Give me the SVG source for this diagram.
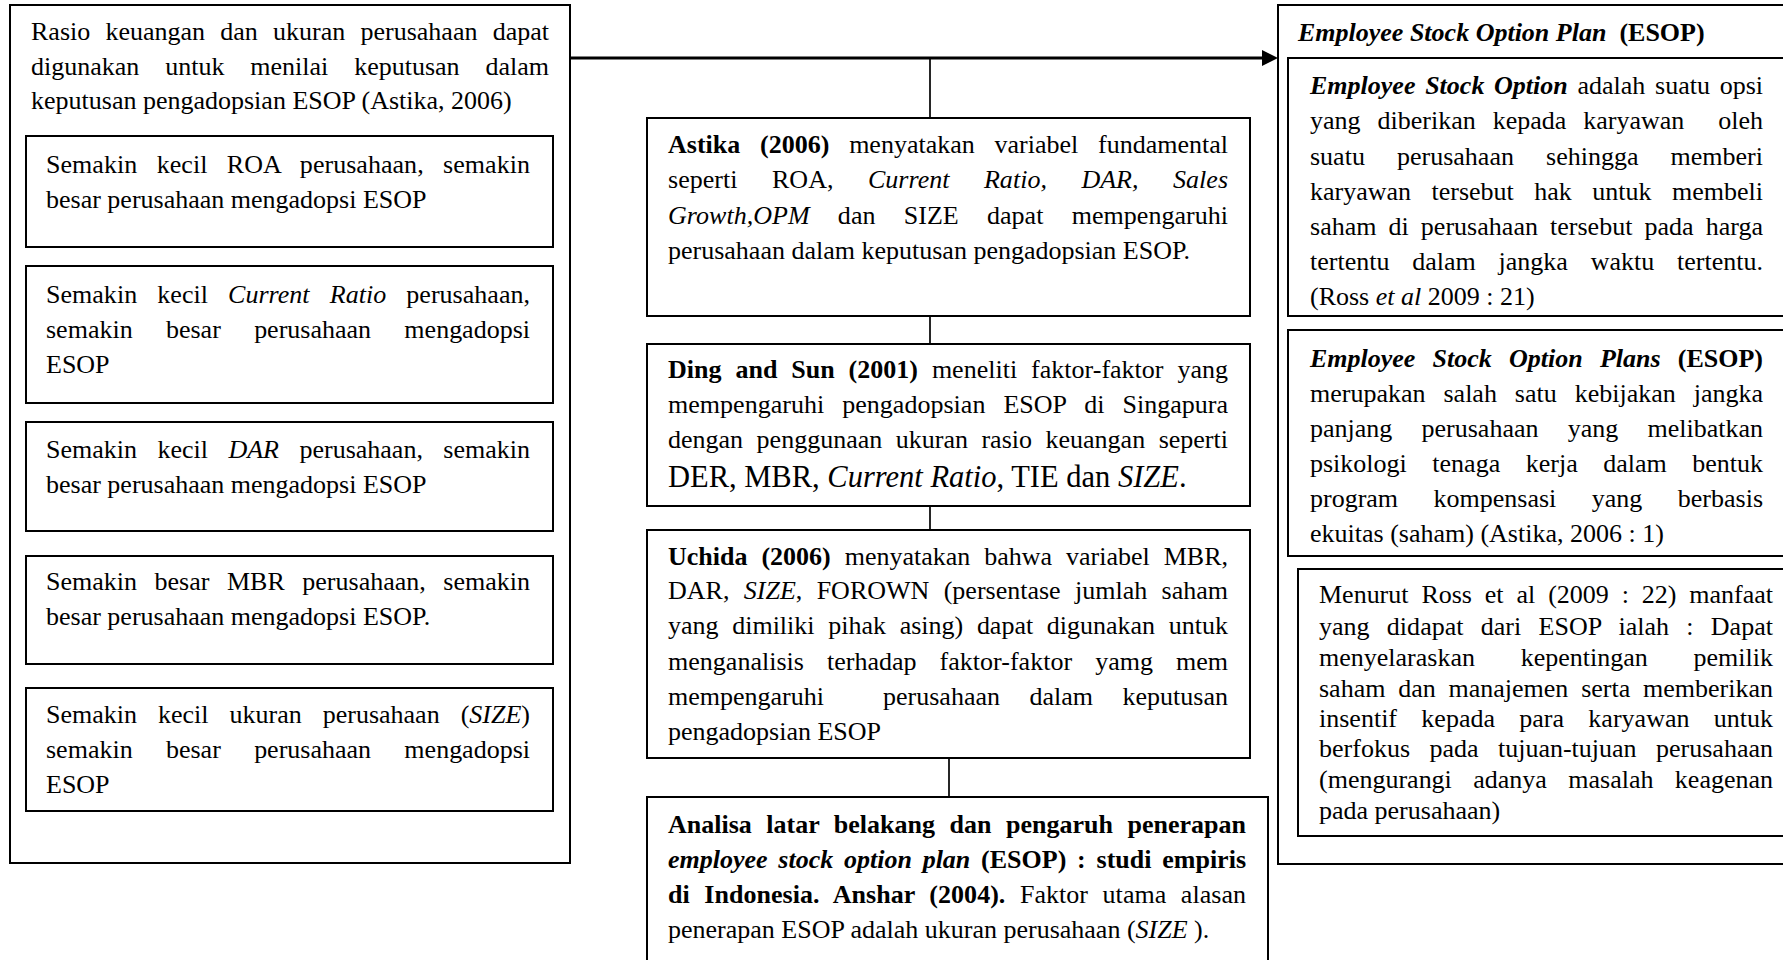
<svg xmlns="http://www.w3.org/2000/svg" width="1783" height="960" viewBox="0 0 1783 960">
<style>
.t{font-family:"Liberation Serif","Times New Roman",serif;font-size:26px;fill:#000}
.b{font-weight:bold}
.i{font-style:italic}
.bi{font-weight:bold;font-style:italic}
.box{fill:none;stroke:#000;stroke-width:2}
.conn{stroke:#000;stroke-width:1.7;fill:none}
.main{stroke:#000;stroke-width:3;fill:none}
</style>
<defs>
<marker id="arr" markerUnits="userSpaceOnUse" markerWidth="16" markerHeight="16" refX="4" refY="8" orient="auto">
<path d="M0,0 L16,8 L0,16 z" fill="#000"/>
</marker>
</defs>
<rect width="1783" height="960" fill="#fff"/>

<g id="connectors">
<line class="main" x1="571" y1="58" x2="1266" y2="58" marker-end="url(#arr)"/>
<line class="conn" x1="930" y1="58" x2="930" y2="118"/>
<line class="conn" x1="930" y1="316" x2="930" y2="344"/>
<line class="conn" x1="930" y1="506" x2="930" y2="530"/>
<line class="conn" x1="949" y1="758" x2="949" y2="797"/>
</g>

<g id="left-main">
<rect class="box" x="10" y="5" width="560" height="858"/>
<text class="t" x="31" y="40" textLength="518" lengthAdjust="spacing" style="word-spacing:8.7px">Rasio keuangan dan ukuran perusahaan dapat</text>
<text class="t" x="31" y="75" textLength="518" lengthAdjust="spacing" style="word-spacing:19.4px">digunakan untuk menilai keputusan dalam</text>
<text class="t" x="31" y="109">keputusan pengadopsian ESOP (Astika, 2006)</text>
</g>

<g id="left-roa">
<rect class="box" x="26" y="136" width="527" height="111"/>
<text class="t" x="46" y="173" textLength="484" lengthAdjust="spacing" style="word-spacing:12.9px">Semakin kecil ROA perusahaan, semakin</text>
<text class="t" x="46" y="208">besar perusahaan mengadopsi ESOP</text>
</g>

<g id="left-cr">
<rect class="box" x="26" y="266" width="527" height="137"/>
<text class="t" x="46" y="303" textLength="484" lengthAdjust="spacing" style="word-spacing:13.6px">Semakin kecil <tspan class="i">Current Ratio</tspan> perusahaan,</text>
<text class="t" x="46" y="338" textLength="484" lengthAdjust="spacing" style="word-spacing:26.8px">semakin besar perusahaan mengadopsi</text>
<text class="t" x="46" y="373">ESOP</text>
</g>

<g id="left-dar">
<rect class="box" x="26" y="422" width="527" height="109"/>
<text class="t" x="46" y="458" textLength="484" lengthAdjust="spacing" style="word-spacing:14px">Semakin kecil <tspan class="i">DAR</tspan> perusahaan, semakin</text>
<text class="t" x="46" y="493">besar perusahaan mengadopsi ESOP</text>
</g>

<g id="left-mbr">
<rect class="box" x="26" y="556" width="527" height="108"/>
<text class="t" x="46" y="590" textLength="484" lengthAdjust="spacing" style="word-spacing:11px">Semakin besar MBR perusahaan, semakin</text>
<text class="t" x="46" y="625">besar perusahaan mengadopsi ESOP.</text>
</g>

<g id="left-size">
<rect class="box" x="26" y="688" width="527" height="123"/>
<text class="t" x="46" y="723" textLength="484" lengthAdjust="spacing" style="word-spacing:14.5px">Semakin kecil ukuran perusahaan (<tspan class="i">SIZE</tspan>)</text>
<text class="t" x="46" y="758" textLength="484" lengthAdjust="spacing" style="word-spacing:26.8px">semakin besar perusahaan mengadopsi</text>
<text class="t" x="46" y="793">ESOP</text>
</g>

<g id="center-astika">
<rect class="box" x="647" y="118" width="603" height="198"/>
<text class="t" x="668" y="153" textLength="560" lengthAdjust="spacing" style="word-spacing:13.3px"><tspan class="b">Astika (2006)</tspan> menyatakan variabel fundamental</text>
<text class="t" x="668" y="188" textLength="560" lengthAdjust="spacing" style="word-spacing:27.9px">seperti ROA, <tspan class="i">Current Ratio, DAR, Sales</tspan></text>
<text class="t" x="668" y="224" textLength="560" lengthAdjust="spacing" style="word-spacing:21.7px"><tspan class="i">Growth,OPM</tspan> dan SIZE dapat mempengaruhi</text>
<text class="t" x="668" y="259">perusahaan dalam keputusan pengadopsian ESOP.</text>
</g>

<g id="center-ding">
<rect class="box" x="647" y="344" width="603" height="162"/>
<text class="t" x="668" y="378" textLength="560" lengthAdjust="spacing" style="word-spacing:7.4px"><tspan class="b">Ding and Sun (2001)</tspan> meneliti faktor-faktor yang</text>
<text class="t" x="668" y="413" textLength="560" lengthAdjust="spacing" style="word-spacing:11.5px">mempengaruhi pengadopsian ESOP di Singapura</text>
<text class="t" x="668" y="448" textLength="560" lengthAdjust="spacing" style="word-spacing:7px">dengan penggunaan ukuran rasio keuangan seperti</text>
<text class="t" x="668" y="487" style="font-size:30.5px">DER, MBR, <tspan class="i">Current Ratio</tspan>, TIE dan <tspan class="i">SIZE</tspan>.</text>
</g>

<g id="center-uchida">
<rect class="box" x="647" y="530" width="603" height="228"/>
<text class="t" x="668" y="565" textLength="560" lengthAdjust="spacing" style="word-spacing:7.4px"><tspan class="b">Uchida (2006)</tspan> menyatakan bahwa variabel MBR,</text>
<text class="t" x="668" y="599" textLength="560" lengthAdjust="spacing" style="word-spacing:7.9px">DAR, <tspan class="i">SIZE</tspan>, FOROWN (persentase jumlah saham</text>
<text class="t" x="668" y="634" textLength="560" lengthAdjust="spacing" style="word-spacing:7.2px">yang dimiliki pihak asing) dapat digunakan untuk</text>
<text class="t" x="668" y="670" textLength="560" lengthAdjust="spacing" style="word-spacing:16.5px">menganalisis terhadap faktor-faktor yamg mem</text>
<text class="t" x="668" y="705" textLength="560" lengthAdjust="spacing" xml:space="preserve" style="word-spacing:23px">mempengaruhi  perusahaan dalam keputusan</text>
<text class="t" x="668" y="740">pengadopsian ESOP</text>
</g>

<g id="center-anshar">
<rect class="box" x="647" y="797" width="621" height="180"/>
<text class="t b" x="668" y="833" textLength="578" lengthAdjust="spacing" style="word-spacing:8px">Analisa latar belakang dan pengaruh penerapan</text>
<text class="t b" x="668" y="868" textLength="578" lengthAdjust="spacing" style="word-spacing:4.3px"><tspan class="bi">employee stock option plan</tspan> (ESOP) : studi empiris</text>
<text class="t" x="668" y="903" textLength="578" lengthAdjust="spacing" style="word-spacing:8px"><tspan class="b">di Indonesia. Anshar (2004).</tspan> Faktor utama alasan</text>
<text class="t" x="668" y="938">penerapan ESOP adalah ukuran perusahaan (<tspan class="i">SIZE</tspan> ).</text>
</g>

<g id="right-main">
<rect class="box" x="1278" y="5" width="530" height="859"/>
<text class="t" x="1298" y="41" xml:space="preserve"><tspan class="bi">Employee Stock Option Plan</tspan>  <tspan class="b">(ESOP)</tspan></text>
</g>

<g id="right-eso">
<rect class="box" x="1288" y="58" width="520" height="258"/>
<text class="t" x="1310" y="94" textLength="453" lengthAdjust="spacing" style="word-spacing:3.2px"><tspan class="bi">Employee Stock Option</tspan> adalah suatu opsi</text>
<text class="t" x="1310" y="129" textLength="453" lengthAdjust="spacing" xml:space="preserve" style="word-spacing:10.5px">yang diberikan kepada karyawan  oleh</text>
<text class="t" x="1310" y="165" textLength="453" lengthAdjust="spacing" style="word-spacing:25.6px">suatu perusahaan sehingga memberi</text>
<text class="t" x="1310" y="200" textLength="453" lengthAdjust="spacing" style="word-spacing:14px">karyawan tersebut hak untuk membeli</text>
<text class="t" x="1310" y="235" textLength="453" lengthAdjust="spacing" style="word-spacing:5.5px">saham di perusahaan tersebut pada harga</text>
<text class="t" x="1310" y="270" textLength="453" lengthAdjust="spacing" style="word-spacing:16.3px">tertentu dalam jangka waktu tertentu.</text>
<text class="t" x="1310" y="305">(Ross <tspan class="i">et al</tspan> 2009 : 21)</text>
</g>

<g id="right-esop">
<rect class="box" x="1288" y="330" width="520" height="226"/>
<text class="t" x="1310" y="367" textLength="453" lengthAdjust="spacing" style="word-spacing:10.7px"><tspan class="bi">Employee Stock Option Plans</tspan> <tspan class="b">(ESOP)</tspan></text>
<text class="t" x="1310" y="402" textLength="453" lengthAdjust="spacing" style="word-spacing:11.4px">merupakan salah satu kebijakan jangka</text>
<text class="t" x="1310" y="437" textLength="453" lengthAdjust="spacing" style="word-spacing:22.7px">panjang perusahaan yang melibatkan</text>
<text class="t" x="1310" y="472" textLength="453" lengthAdjust="spacing" style="word-spacing:19px">psikologi tenaga kerja dalam bentuk</text>
<text class="t" x="1310" y="507" textLength="453" lengthAdjust="spacing" style="word-spacing:29px">program kompensasi yang berbasis</text>
<text class="t" x="1310" y="542">ekuitas (saham) (Astika, 2006 : 1)</text>
</g>

<g id="right-manfaat">
<rect class="box" x="1298" y="569" width="510" height="267"/>
<text class="t" x="1319" y="603" textLength="454" lengthAdjust="spacing" style="word-spacing:6.4px">Menurut Ross et al (2009 : 22) manfaat</text>
<text class="t" x="1319" y="635" textLength="454" lengthAdjust="spacing" style="word-spacing:10.7px">yang didapat dari ESOP ialah : Dapat</text>
<text class="t" x="1319" y="666" textLength="454" lengthAdjust="spacing" style="word-spacing:39.3px">menyelaraskan kepentingan pemilik</text>
<text class="t" x="1319" y="697" textLength="454" lengthAdjust="spacing" style="word-spacing:6.3px">saham dan manajemen serta memberikan</text>
<text class="t" x="1319" y="727" textLength="454" lengthAdjust="spacing" style="word-spacing:17.8px">insentif kepada para karyawan untuk</text>
<text class="t" x="1319" y="757" textLength="454" lengthAdjust="spacing" style="word-spacing:12.9px">berfokus pada tujuan-tujuan perusahaan</text>
<text class="t" x="1319" y="788" textLength="454" lengthAdjust="spacing" style="word-spacing:14.9px">(mengurangi adanya masalah keagenan</text>
<text class="t" x="1319" y="819">pada perusahaan)</text>
</g>
</svg>
